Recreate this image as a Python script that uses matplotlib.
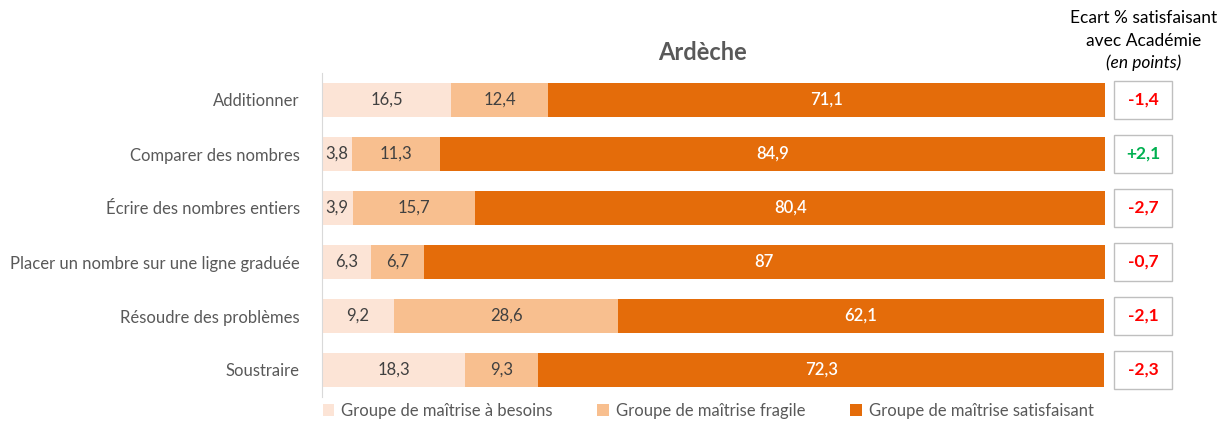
import numpy as np
import matplotlib.pyplot as plt
from matplotlib.patches import Rectangle
from matplotlib.transforms import blended_transform_factory

plt.rcParams['font.family'] = ['Lato', 'DejaVu Sans']

# Donnees
categories = ["Additionner", "Comparer des nombres", "Écrire des nombres entiers",
              "Placer un nombre sur une ligne graduée", "Résoudre des problèmes", "Soustraire"]
besoins = [16.5, 3.8, 3.9, 6.3, 9.2, 18.3]
fragile = [12.4, 11.3, 15.7, 6.7, 28.6, 9.3]
satisfaisant = [71.1, 84.9, 80.4, 87, 62.1, 72.3]
ecarts = [-1.4, 2.1, -2.7, -0.7, -2.1, -2.3]
series_names = ["Groupe de maîtrise à besoins", "Groupe de maîtrise fragile",
                "Groupe de maîtrise satisfaisant"]

colors = ["#FCE4D6", "#F8BF8F", "#E46C0A"]
text_colors = ["#404040", "#404040", "white"]

def fmt(v):
    s = ("%g" % v).replace(".", ",")
    return s

fig = plt.figure(figsize=(12.24, 4.21), dpi=100)
# axes: x 322->1105 px, y 73->397 px
ax = fig.add_axes([322/1224, 1 - 397/421, 783/1224, 324/421])

y = np.arange(len(categories))
left = np.zeros(len(categories))
for vals, col, tcol, name in zip([besoins, fragile, satisfaisant], colors, text_colors, series_names):
    vals = np.array(vals)
    ax.barh(y, vals, left=left, height=0.63, color=col, label=name)
    for yi, l, v in zip(y, left, vals):
        ax.text(l + v / 2, yi, fmt(v), ha="center", va="center", fontsize=12,
                color=tcol, fontweight="semibold" if tcol == "white" else "normal")
    left = left + vals

ax.set_xlim(0, 100)
ax.set_ylim(len(categories) - 0.5, -0.5)
ax.set_yticks(y)
ax.set_yticklabels(categories, fontsize=12, color="#595959")
ax.tick_params(axis="y", length=0, pad=16)
ax.set_xticks([])
for s in ["top", "right", "bottom"]:
    ax.spines[s].set_visible(False)
ax.spines["left"].set_color("#D9D9D9")

# Titre
fig.text(702/1224, 1 - 53/421, "Ardèche", ha="center", va="center", fontsize=17,
         fontweight="bold", color="#595959")

# Ecarts
trans = blended_transform_factory(ax.transAxes, ax.transData)
bx0 = (1114 - 322) / 783
bw = 58 / 783
for yi, e in zip(y, ecarts):
    ax.add_patch(Rectangle((bx0, yi - 0.35), bw, 0.70, transform=trans, clip_on=False,
                           facecolor="white", edgecolor="#BFBFBF", lw=1))
    col = "#00B050" if e > 0 else "#FF0000"
    txt = ("+" if e > 0 else "") + fmt(e)
    ax.text(bx0 + bw / 2, yi, txt, transform=trans, ha="center", va="center",
            fontsize=12.5, fontweight="bold", color=col)

fig.text(1144/1224, 1 - 18/421, "Ecart % satisfaisant", ha="center", va="center", fontsize=12.5, color="black")
fig.text(1144/1224, 1 - 41/421, "avec Académie", ha="center", va="center", fontsize=12.5, color="black")
fig.text(1144/1224, 1 - 63/421, "(en points)", ha="center", va="center", fontsize=12.5,
         style="italic", color="black")

# Legende
leg = fig.legend(loc="center", bbox_to_anchor=(708/1224, 1 - 411/421), ncol=3, frameon=False,
                 fontsize=12, handlelength=0.7, handleheight=0.7, handletextpad=0.4,
                 columnspacing=2.7)
for t in leg.get_texts():
    t.set_color("#595959")

fig.savefig("out.png", dpi=100)
